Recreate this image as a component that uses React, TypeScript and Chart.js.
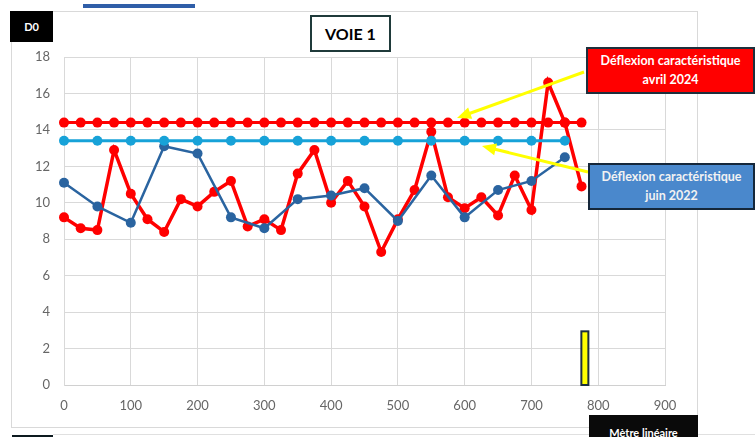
import React, { useEffect, useRef } from "react";
import { Chart, registerables } from "chart.js";

Chart.register(...registerables);

// Distances (mètre linéaire)
const distances2024 = [0, 25, 50, 75, 100, 125, 150, 175, 200, 225, 250, 275, 300, 325, 350, 375, 400, 425, 450, 475, 500, 525, 550, 575, 600, 625, 650, 675, 700, 725, 750, 775];
const deflection2024 = [9.2, 8.6, 8.5, 12.9, 10.5, 9.1, 8.4, 10.2, 9.8, 10.6, 11.2, 8.7, 9.1, 8.5, 11.6, 12.9, 10.0, 11.2, 9.8, 7.3, 9.1, 10.7, 13.9, 10.3, 9.7, 10.3, 9.3, 11.5, 9.6, 16.6, 14.4, 10.9];
const characteristic2024 = 14.4;

const distances2022 = [0, 50, 100, 150, 200, 250, 300, 350, 400, 450, 500, 550, 600, 650, 700, 750];
const deflection2022 = [11.1, 9.8, 8.9, 13.1, 12.7, 9.2, 8.6, 10.2, 10.4, 10.8, 9.0, 11.5, 9.2, 10.7, 11.2, 12.5];
const characteristic2022 = 13.4;

const xMin = 0;
const xMax = 900;
const xStep = 100;
const yMin = 0;
const yMax = 18;
const yStep = 2;

const markerPosition = 780;
const markerValue = 3;

const labelTitle = "VOIE 1";
const labelYAxis = "D0";
const labelXAxis = "Mètre linéaire";
const label2024 = ["Déflexion caractéristique", "avril 2024"];
const label2022 = ["Déflexion caractéristique", "juin 2022"];

const RED = "#ff0000";
const LIGHT_BLUE = "#17a2d8";
const DARK_BLUE = "#2a64a0";

function arrowHead(tx: number, ty: number, fx: number, fy: number, len: number, half: number) {
  const dx = tx - fx;
  const dy = ty - fy;
  const l = Math.hypot(dx, dy);
  const ux = dx / l;
  const uy = dy / l;
  const bx = tx - ux * len;
  const by = ty - uy * len;
  const nx = -uy;
  const ny = ux;
  return `${tx},${ty} ${bx + nx * half},${by + ny * half} ${bx - nx * half},${by - ny * half}`;
}

export default function App() {
  const ref = useRef<HTMLCanvasElement>(null);

  useEffect(() => {
    if (!ref.current) return;
    const markerPlugin = {
      id: "marker",
      afterDatasetsDraw(chart: any) {
        const { ctx, scales } = chart;
        const x = scales.x;
        const y = scales.y;
        const px = x.getPixelForValue(markerPosition);
        const top = y.getPixelForValue(markerValue);
        const bottom = y.getPixelForValue(0);
        ctx.save();
        ctx.fillStyle = "#1c2f3f";
        ctx.fillRect(px - 4.5, top, 9, bottom - top + 1);
        ctx.fillStyle = "#ffff00";
        ctx.fillRect(px - 2.5, top + 2, 5, bottom - top - 3);
        ctx.restore();
      },
    };

    const common = { pointRadius: 5, pointBorderWidth: 0, clip: false as any };

    const chart = new Chart(ref.current, {
      type: "line",
      data: {
        datasets: [
          {
            label: "Déflexion caractéristique juin 2022",
            data: distances2022.map((d) => ({ x: d, y: characteristic2022 })),
            borderColor: LIGHT_BLUE,
            backgroundColor: LIGHT_BLUE,
            borderWidth: 3,
            ...common,
          },
          {
            label: "juin 2022",
            data: distances2022.map((d, i) => ({ x: d, y: deflection2022[i] })),
            borderColor: DARK_BLUE,
            backgroundColor: DARK_BLUE,
            borderWidth: 2.5,
            ...common,
          },
          {
            label: "Déflexion caractéristique avril 2024",
            data: distances2024.map((d) => ({ x: d, y: characteristic2024 })),
            borderColor: RED,
            backgroundColor: RED,
            borderWidth: 3,
            ...common,
          },
          {
            label: "avril 2024",
            data: distances2024.map((d, i) => ({ x: d, y: deflection2024[i] })),
            borderColor: RED,
            backgroundColor: RED,
            borderWidth: 3.5,
            ...common,
          },
        ],
      },
      options: {
        responsive: false,
        animation: false,
        devicePixelRatio: 1,
        layout: { padding: { left: 0, top: 57, right: 90, bottom: 22 } },
        plugins: { legend: { display: false }, tooltip: { enabled: false } },
        scales: {
          x: {
            type: "linear",
            min: xMin,
            max: xMax,
            ticks: { stepSize: xStep, padding: 13, color: "#666666", font: { family: "Lato", size: 13 } },
            grid: { color: "#d9d9d9", drawTicks: false },
            border: { color: "#d0d0d0" },
            afterFit: (s: any) => {
              s.height = 30;
            },
          },
          y: {
            min: yMin,
            max: yMax,
            ticks: { stepSize: yStep, padding: 14, color: "#666666", font: { family: "Lato", size: 13 } },
            grid: { color: "#d9d9d9", drawTicks: false },
            border: { color: "#d9d9d9" },
            afterFit: (s: any) => {
              s.width = 64;
            },
          },
        },
      },
      plugins: [markerPlugin],
    } as any);
    return () => chart.destroy();
  }, []);

  const boxText: React.CSSProperties = {
    position: "absolute",
    boxSizing: "border-box",
    display: "flex",
    flexDirection: "column",
    alignItems: "center",
    justifyContent: "center",
    fontFamily: "Lato, sans-serif",
    fontWeight: 700,
    lineHeight: 1.45,
    textAlign: "center",
  };

  return (
    <div style={{ position: "absolute", left: 0, top: 0, width: 755, height: 437, overflow: "hidden", background: "#fff" }}>
      <div style={{ position: "absolute", left: 83, top: 4, width: 112, height: 4, background: "#2f5ea8" }} />
      <div style={{ position: "absolute", left: 11, top: 11, width: 687, height: 417, boxSizing: "border-box", border: "1px solid #d9d9d9" }} />
      <div style={{ position: "absolute", left: 53, top: 434, width: 702, height: 1, background: "#e0e0e0" }} />
      <div style={{ position: "absolute", left: 12, top: 435, width: 41, height: 5, background: "#0d1a1f" }} />
      <canvas ref={ref} width={755} height={437} style={{ position: "absolute", left: 0, top: 0, width: 755, height: 437 }} />
      <svg width={755} height={437} style={{ position: "absolute", left: 0, top: 0, pointerEvents: "none" }}>
        <line x1={584} y1={72} x2={468} y2={114} stroke="#ffff00" strokeWidth={3} />
        <polygon points={arrowHead(457, 118, 584, 72, 14, 6)} fill="#ffff00" />
        <line x1={588} y1={172} x2={494} y2={149} stroke="#ffff00" strokeWidth={3} />
        <polygon points={arrowHead(482, 146, 588, 172, 14, 6)} fill="#ffff00" />
      </svg>
      <div style={{ ...boxText, left: 10, top: 11, width: 43, height: 31, background: "#000", color: "#fff", fontSize: 11 }}>
        {labelYAxis}
      </div>
      <div style={{ ...boxText, left: 310, top: 15, width: 81, height: 37, background: "#fff", border: "2px solid #1f3a3a", color: "#000", fontSize: 16 }}>
        {labelTitle}
      </div>
      <div style={{ ...boxText, left: 586, top: 47, width: 169, height: 47, background: RED, border: "2px solid #1e2f3c", color: "#fff", fontSize: 12.5 }}>
        <div>{label2024[0]}</div>
        <div>{label2024[1]}</div>
      </div>
      <div style={{ ...boxText, left: 588, top: 163, width: 167, height: 47, background: "#4a88cc", border: "2px solid #15273a", color: "#f2f2f2", fontSize: 12.5 }}>
        <div>{label2022[0]}</div>
        <div>{label2022[1]}</div>
      </div>
      <div style={{ ...boxText, left: 589, top: 415, width: 109, height: 30, justifyContent: "flex-start", paddingTop: 10, background: "#0a0a0a", color: "#fff", fontSize: 11 }}>
        {labelXAxis}
      </div>
    </div>
  );
}
